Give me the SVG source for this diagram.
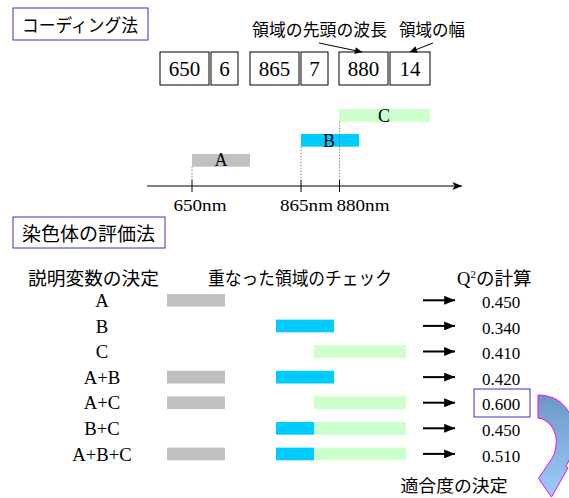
<svg xmlns="http://www.w3.org/2000/svg" width="569" height="498" viewBox="0 0 569 498">
<style>
.jp{font-family:"Noto Sans CJK JP","Noto Sans",sans-serif;fill:#000}
.tm{font-family:"Liberation Serif",serif;fill:#000}
.hdr{fill:#fff;stroke:#3333CC;stroke-width:1}
.cell{fill:#fff;stroke:#000;stroke-width:1}
.ga{fill:#C0C0C0}
.gb{fill:#00CCFF}
.gc{fill:#CCFFCC}
.thin{stroke:#000;stroke-width:1;fill:none}
.dot{stroke:#666;stroke-width:0.8;stroke-dasharray:1.5 1.5;fill:none}
.rarr{stroke:#000;stroke-width:2;fill:none}
</style>
<defs>
<marker id="ah" viewBox="0 0 10 10" refX="10" refY="5" markerWidth="9" markerHeight="7" markerUnits="userSpaceOnUse" orient="auto">
<path d="M0,0 L10,5 L0,10 Z" fill="#000"/>
</marker>
<marker id="ax" viewBox="0 0 12 10" refX="12" refY="5" markerWidth="12" markerHeight="8" markerUnits="userSpaceOnUse" orient="auto">
<path d="M0,0 L12,5 L0,10 L3,5 Z" fill="#000"/>
</marker>
<marker id="rh" viewBox="0 0 12 10" refX="12" refY="5" markerWidth="12" markerHeight="9" markerUnits="userSpaceOnUse" orient="auto">
<path d="M0,0 L12,5 L0,10 Z" fill="#000"/>
</marker>
<linearGradient id="cg" x1="0" y1="0" x2="0" y2="1">
<stop offset="0" stop-color="#6C97C4"/>
<stop offset="1" stop-color="#9CCDFB"/>
</linearGradient>
</defs>

<g id="title-coding">
<rect class="hdr" x="13" y="8" width="135" height="32"/>
<text class="jp" x="22" y="32" font-size="18" textLength="116" lengthAdjust="spacingAndGlyphs">コーディング法</text>
</g>

<g id="label-head">
<text class="jp" x="252" y="36" font-size="16.5" textLength="135" lengthAdjust="spacingAndGlyphs">領域の先頭の波長</text>
</g>
<g id="label-width">
<text class="jp" x="399" y="36" font-size="16.5" textLength="66" lengthAdjust="spacingAndGlyphs">領域の幅</text>
</g>

<g id="code-cells" class="tm" font-size="21" text-anchor="middle">
<g id="c650"><rect class="cell" x="160" y="52" width="49" height="33"/><text x="184.5" y="76">650</text></g>
<g id="c6"><rect class="cell" x="211" y="52" width="27" height="33"/><text x="224.5" y="76">6</text></g>
<g id="c865"><rect class="cell" x="250" y="52" width="49" height="33"/><text x="274.5" y="76">865</text></g>
<g id="c7"><rect class="cell" x="301" y="52" width="27" height="33"/><text x="314.5" y="76">7</text></g>
<g id="c880"><rect class="cell" x="339" y="52" width="49" height="33"/><text x="363.5" y="76">880</text></g>
<g id="c14"><rect class="cell" x="390" y="52" width="40" height="33"/><text x="410" y="76">14</text></g>
</g>

<g id="spectrum">
<rect class="gc" x="339" y="109" width="91" height="12.7"/>
<rect class="gb" x="301" y="134" width="58" height="12.7"/>
<rect class="ga" x="192" y="154" width="58" height="12.7"/>
<g class="tm" font-size="18" text-anchor="middle">
<text x="221" y="166">A</text>
<text x="329" y="147">B</text>
<text x="384" y="121.5">C</text>
</g>
<g class="tm" font-size="17">
<text x="173.5" y="211" textLength="53" lengthAdjust="spacingAndGlyphs">650nm</text>
<text x="280" y="211" textLength="53" lengthAdjust="spacingAndGlyphs">865nm</text>
<text x="336.5" y="211" textLength="53" lengthAdjust="spacingAndGlyphs">880nm</text>
</g>
</g>

<g id="title-eval">
<rect class="hdr" x="13" y="217" width="152" height="31"/>
<text class="jp" x="22" y="241" font-size="19" textLength="133" lengthAdjust="spacingAndGlyphs">染色体の評価法</text>
</g>

<g id="col-heads">
<text class="jp" x="28" y="285" font-size="18.5" textLength="131" lengthAdjust="spacingAndGlyphs">説明変数の決定</text>
<text class="jp" x="208" y="285" font-size="18.5" textLength="184" lengthAdjust="spacingAndGlyphs">重なった領域のチェック</text>
<text x="457" y="285"><tspan class="tm" font-size="18.5">Q</tspan><tspan class="tm" font-size="11" dy="-7">2</tspan><tspan class="jp" font-size="18.5" dy="7">の計算</tspan></text>
</g>

<g id="rows" class="tm">
<g id="row-A">
<text x="102" y="307" font-size="18.7" text-anchor="middle">A</text>
<rect class="ga" x="167" y="294" width="58" height="12.7"/>
<text x="501" y="308" font-size="17" text-anchor="middle">0.450</text>
</g>
<g id="row-B">
<text x="102" y="332.6" font-size="18.7" text-anchor="middle">B</text>
<rect class="gb" x="276" y="319.6" width="58" height="12.7"/>
<text x="501" y="333.6" font-size="17" text-anchor="middle">0.340</text>
</g>
<g id="row-C">
<text x="102" y="358.2" font-size="18.7" text-anchor="middle">C</text>
<rect class="gc" x="314" y="345.2" width="92" height="12.7"/>
<text x="501" y="359.2" font-size="17" text-anchor="middle">0.410</text>
</g>
<g id="row-AB">
<text x="102" y="383.8" font-size="18.7" text-anchor="middle">A+B</text>
<rect class="ga" x="167" y="370.8" width="58" height="12.7"/>
<rect class="gb" x="276" y="370.8" width="58" height="12.7"/>
<text x="501" y="384.8" font-size="17" text-anchor="middle">0.420</text>
</g>
<g id="row-AC">
<text x="102" y="409.4" font-size="18.7" text-anchor="middle">A+C</text>
<rect class="ga" x="167" y="396.4" width="58" height="12.7"/>
<rect class="gc" x="314" y="396.4" width="92" height="12.7"/>
<rect class="hdr" x="474" y="389" width="56" height="28"/>
<text x="501" y="410.4" font-size="17" text-anchor="middle">0.600</text>
</g>
<g id="row-BC">
<text x="102" y="435" font-size="18.7" text-anchor="middle">B+C</text>
<rect class="gb" x="276" y="422" width="38" height="12.7"/>
<rect class="gc" x="314" y="422" width="92" height="12.7"/>
<text x="501" y="436" font-size="17" text-anchor="middle">0.450</text>
</g>
<g id="row-ABC">
<text x="102" y="460.6" font-size="18.7" text-anchor="middle">A+B+C</text>
<rect class="ga" x="167" y="447.6" width="58" height="12.7"/>
<rect class="gb" x="276" y="447.6" width="38" height="12.7"/>
<rect class="gc" x="314" y="447.6" width="92" height="12.7"/>
<text x="501" y="461.6" font-size="17" text-anchor="middle">0.510</text>
</g>
</g>

<g id="fitness">
<path d="M538,395 C558,395 572,408 574,430 C575,446 571,458 566,466 L568,468 L551.5,497 L538.5,478.5 L549.5,462 C555,455 557,446 556,437 C554,427 547,419 538,418 Z" fill="url(#cg)" stroke="#FF00FF" stroke-width="1"/>
<text class="jp" x="400.5" y="492" font-size="17.5" textLength="107" lengthAdjust="spacingAndGlyphs">適合度の決定</text>
</g>

<g id="connectors">
<line class="thin" x1="319" y1="43" x2="362" y2="52" marker-end="url(#ah)"/>
<line class="thin" x1="433" y1="43" x2="410" y2="52" marker-end="url(#ah)"/>
<line class="thin" x1="147" y1="186" x2="462" y2="186" marker-end="url(#ax)"/>
<line class="thin" x1="192" y1="180" x2="192" y2="192"/>
<line class="thin" x1="301" y1="180" x2="301" y2="192"/>
<line class="thin" x1="339.5" y1="180" x2="339.5" y2="192"/>
<line class="dot" x1="192" y1="166.7" x2="192" y2="180"/>
<line class="dot" x1="301" y1="146.7" x2="301" y2="180"/>
<line class="dot" x1="339.5" y1="121.7" x2="339.5" y2="180"/>
<line class="rarr" x1="423" y1="300.3" x2="455" y2="300.3" marker-end="url(#rh)"/>
<line class="rarr" x1="423" y1="325.9" x2="455" y2="325.9" marker-end="url(#rh)"/>
<line class="rarr" x1="423" y1="351.5" x2="455" y2="351.5" marker-end="url(#rh)"/>
<line class="rarr" x1="423" y1="377.1" x2="455" y2="377.1" marker-end="url(#rh)"/>
<line class="rarr" x1="423" y1="402.7" x2="455" y2="402.7" marker-end="url(#rh)"/>
<line class="rarr" x1="423" y1="428.3" x2="455" y2="428.3" marker-end="url(#rh)"/>
<line class="rarr" x1="423" y1="453.9" x2="455" y2="453.9" marker-end="url(#rh)"/>
</g>
</svg>
